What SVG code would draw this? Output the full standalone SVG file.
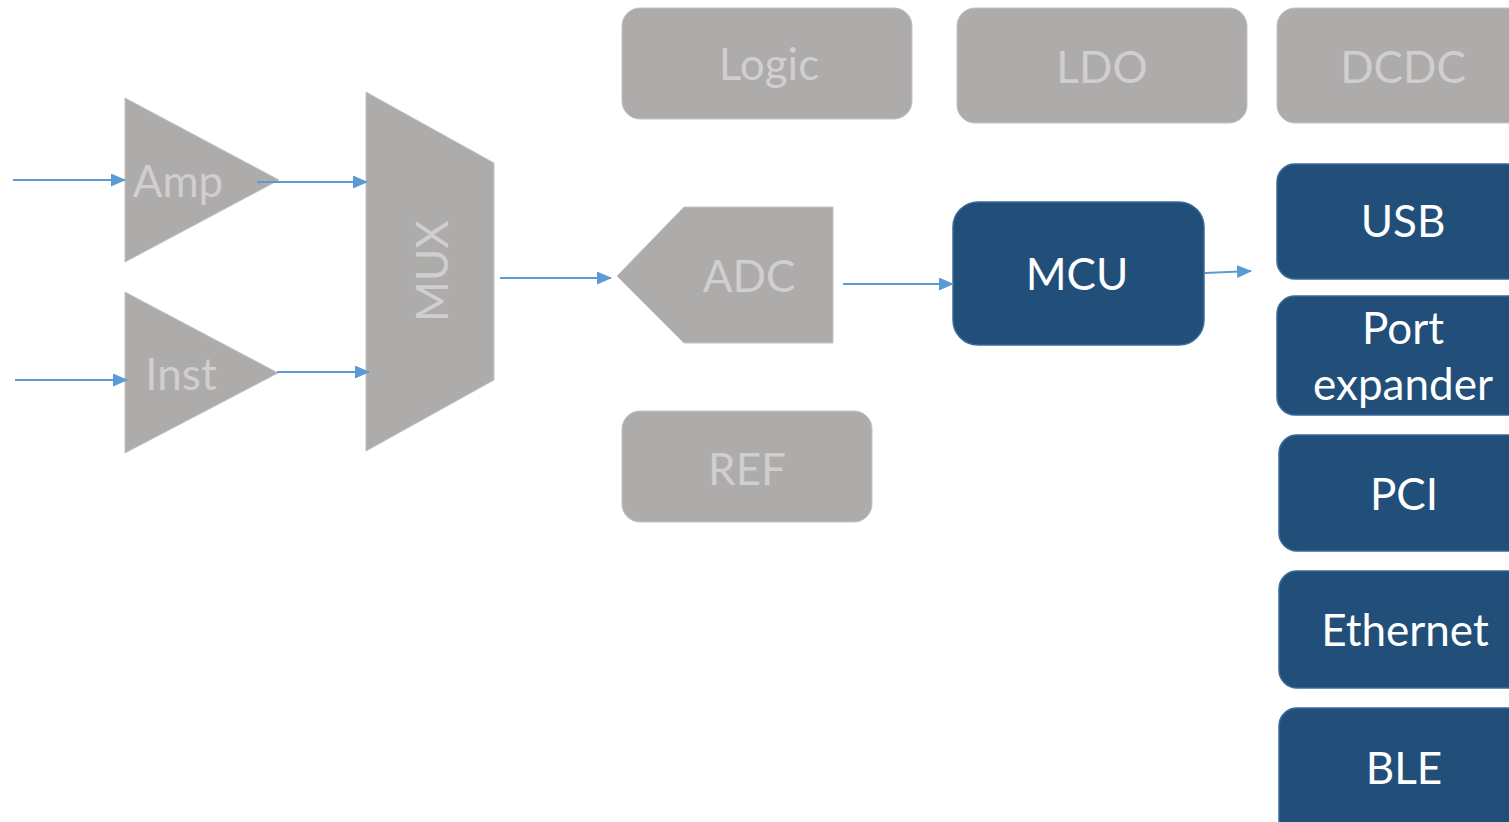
<svg xmlns="http://www.w3.org/2000/svg" width="1509" height="822" viewBox="0 0 1509 822">
<defs>
<style>
.g{fill:#AEABAB;stroke:#C4C2C2;stroke-width:1}
.b{fill:#214F7A;stroke:#3A6A9A;stroke-width:1.5}
.gt{fill:#D0CECE;font-family:Lato,"Open Sans",sans-serif;font-size:44px;text-anchor:middle}
.bt{fill:#FFFFFF;font-family:Lato,"Open Sans",sans-serif;font-size:44px;text-anchor:middle}
.c{stroke:#5B9BD5;stroke-width:2;fill:none;marker-end:url(#ah)}
</style>
<marker id="ah" viewBox="0 0 15 13" refX="14" refY="6.5" markerWidth="15" markerHeight="13" markerUnits="userSpaceOnUse" orient="auto">
<path d="M0,0 L15,6.5 L0,13 Z" fill="#5B9BD5"/>
</marker>
</defs>
<rect width="1509" height="822" fill="#FFFFFF"/>

<g id="amp"><polygon class="g" points="125,98 125,262 279,180"/><text class="gt" x="178" y="197">Amp</text></g>
<g id="inst"><polygon class="g" points="125,292 125,453 278,373"/><text class="gt" x="181" y="390">Inst</text></g>
<g id="mux"><polygon class="g" points="366,92 494,163 494,380 366,451"/><text class="gt" transform="translate(448,271) rotate(-90)" x="0" y="0">MUX</text></g>
<g id="adc"><polygon class="g" points="617,276 684,207 833,207 833,343 684,343"/><text class="gt" x="749" y="292">ADC</text></g>
<g id="ref"><rect class="g" x="622" y="411" width="250" height="111" rx="18"/><text class="gt" x="747" y="485">REF</text></g>
<g id="logic"><rect class="g" x="622" y="8" width="290" height="111" rx="18"/><text class="gt" x="769" y="80">Logic</text></g>
<g id="ldo"><rect class="g" x="957" y="8" width="290" height="115" rx="18"/><text class="gt" x="1102" y="83">LDO</text></g>
<g id="dcdc"><rect class="g" x="1277" y="8" width="260" height="115" rx="18"/><text class="gt" x="1403" y="83">DCDC</text></g>

<g id="mcu"><rect class="b" x="953" y="202" width="251" height="143" rx="25"/><text class="bt" x="1077" y="290">MCU</text></g>
<g id="usb"><rect class="b" x="1277" y="164" width="250" height="115" rx="18"/><text class="bt" x="1403" y="237">USB</text></g>
<g id="port"><rect class="b" x="1277" y="296" width="250" height="119" rx="18"/><text class="bt" x="1403" y="344">Port</text><text class="bt" x="1403" y="400">expander</text></g>
<g id="pci"><rect class="b" x="1279" y="435" width="250" height="116" rx="18"/><text class="bt" x="1404" y="510">PCI</text></g>
<g id="ethernet"><rect class="b" x="1279" y="571" width="250" height="117" rx="18"/><text class="bt" x="1405" y="646">Ethernet</text></g>
<g id="ble"><rect class="b" x="1279" y="708" width="250" height="130" rx="18"/><text class="bt" x="1404" y="784">BLE</text></g>

<g id="connectors">
<line class="c" x1="13" y1="180" x2="125" y2="180"/>
<line class="c" x1="15" y1="380" x2="127" y2="380"/>
<line class="c" x1="257" y1="182" x2="367" y2="182"/>
<line class="c" x1="277" y1="372" x2="369" y2="372"/>
<line class="c" x1="500" y1="278" x2="611" y2="278"/>
<line class="c" x1="843" y1="284" x2="953" y2="284"/>
<line class="c" x1="1205" y1="273" x2="1251" y2="271"/>
</g>
</svg>
